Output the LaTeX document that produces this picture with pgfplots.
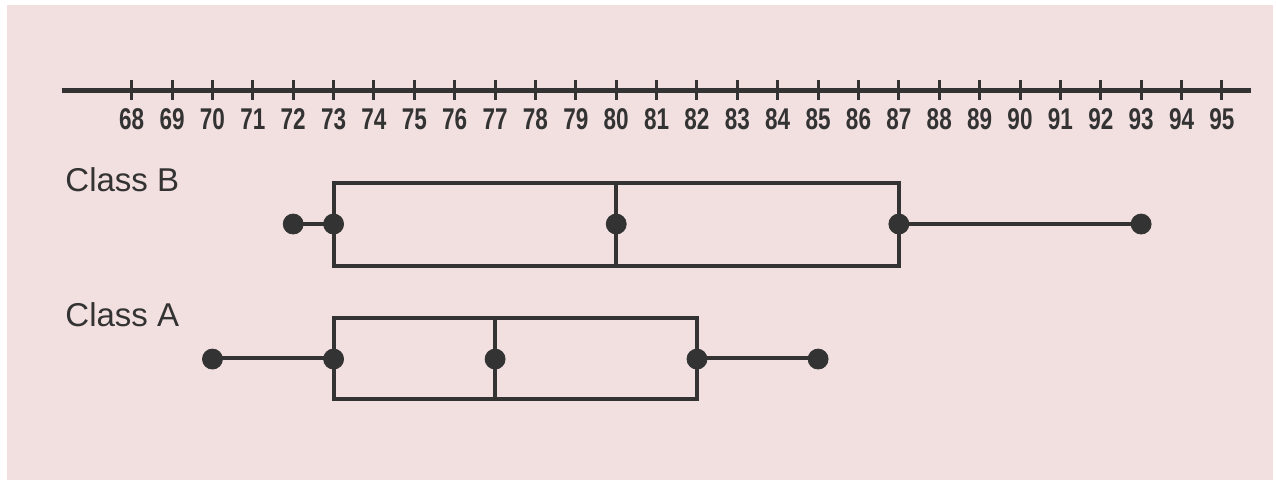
\documentclass[border=0pt]{standalone}
\usepackage{fontspec}
\usepackage{pgfplots}
\pgfplotsset{compat=1.18}
\usepgfplotslibrary{statistics}
\usetikzlibrary{backgrounds}
\setmainfont{Liberation Sans}
\newfontfamily\tickfont{Liberation Sans}[FakeStretch=0.75]

\definecolor{bgpink}{HTML}{F2DFE0}
\definecolor{ink}{HTML}{333333}

% 1 px of the reference = 0.5pt; y is (90 - pixel row)
\begin{document}
\begin{tikzpicture}
\begin{axis}[
    scale only axis,
    width=594.5pt, height=241.5pt,
    xmin=66.266, xmax=95.718,
    ymin=-393, ymax=90,
    axis x line=middle,
    axis y line=none,
    axis line style={-, line width=2.5pt, draw=ink},
    xtick={68,...,95},
    major tick length=10pt,
    tick align=center,
    tick style={line width=1.5pt, draw=ink},
    xticklabel style={font=\tickfont\bfseries\fontsize{15}{15}\selectfont, text=ink, yshift=-0.8pt},
    /pgf/number format/assume math mode=true,
    clip=false,
    boxplot/draw direction=x,
]
% background corners
\coordinate (w1) at (axis cs:64.738,90);
\coordinate (w2) at (axis cs:96.34,-393);
\coordinate (p1) at (axis cs:64.911,85);
\coordinate (p2) at (axis cs:96.27,-390);

% Class B
\addplot[draw=ink, line width=2pt, mark=none, solid,
    boxplot prepared={lower whisker=72, lower quartile=73, median=80,
        upper quartile=87, upper whisker=93,
        draw position=-134.25, box extend=83.5, whisker extend=0}]
    coordinates {};
\addplot[only marks, mark=*, mark size=5pt, color=ink]
    coordinates {(72,-134)(73,-134)(80,-134)(87,-134)(93,-134)};

% Class A
\addplot[draw=ink, line width=2pt, mark=none, solid,
    boxplot prepared={lower whisker=70, lower quartile=73, median=77,
        upper quartile=82, upper whisker=85,
        draw position=-268.25, box extend=81.5, whisker extend=0}]
    coordinates {};
\addplot[only marks, mark=*, mark size=5pt, color=ink]
    coordinates {(70,-269)(73,-269)(77,-269)(82,-269)(85,-269)};

\node[anchor=base west, inner sep=0pt, text=ink, font=\fontsize{16.5}{16.5}\selectfont]
    at (axis cs:66.35,-101.5) {Class B};
\node[anchor=base west, inner sep=0pt, text=ink, font=\fontsize{16.5}{16.5}\selectfont]
    at (axis cs:66.35,-236) {Class A};
\end{axis}
\begin{pgfonlayer}{background}
\fill[white] (w1) rectangle (w2);
\fill[bgpink] (p1) rectangle (p2);
\end{pgfonlayer}
\end{tikzpicture}
\end{document}
